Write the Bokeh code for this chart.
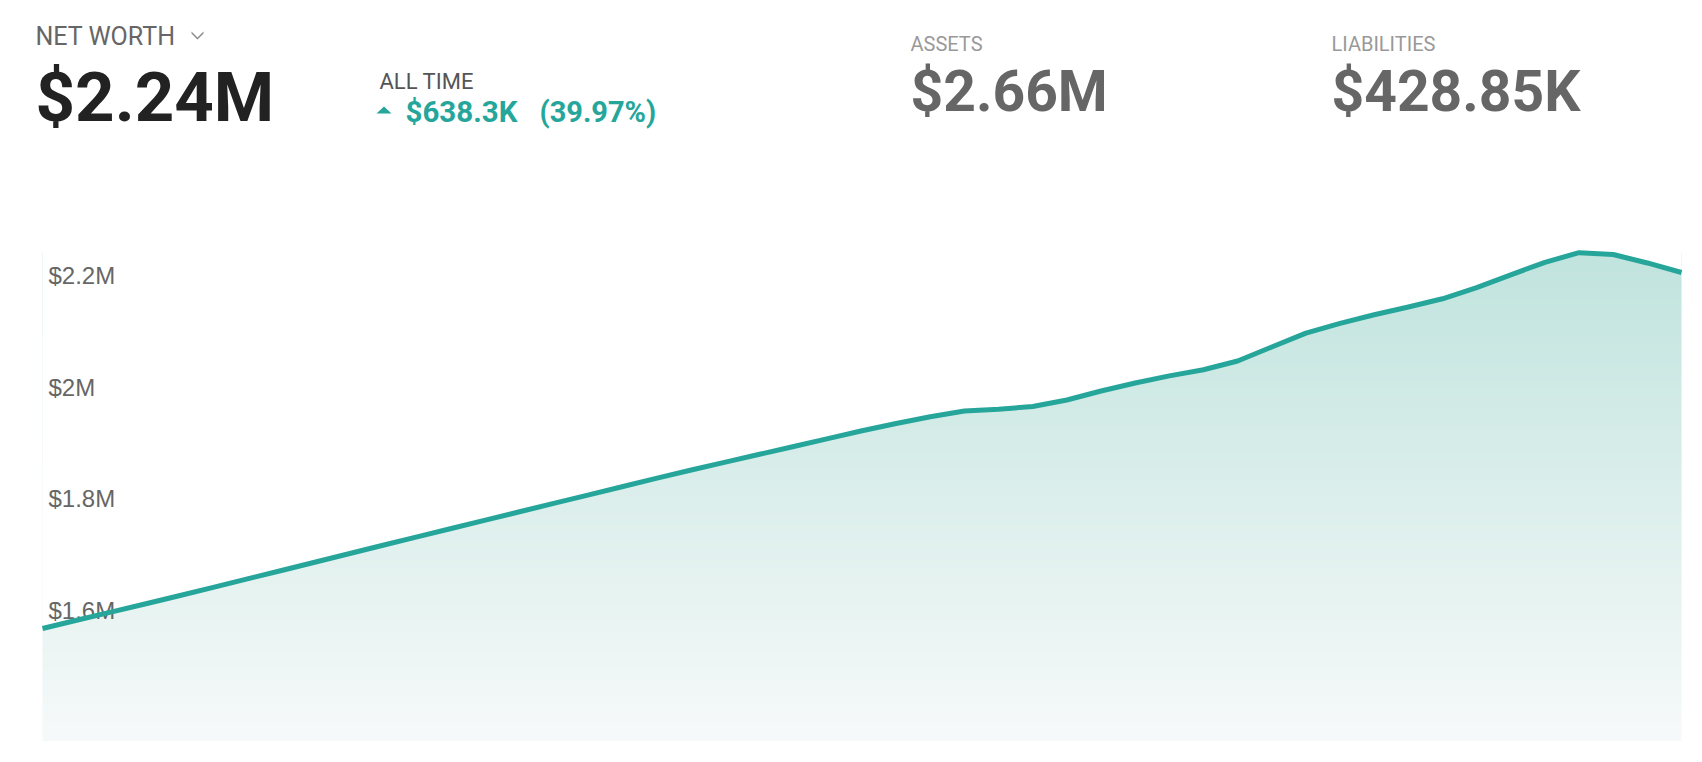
import numpy as np
from bokeh.plotting import figure
from bokeh.models import Range1d, Label, PolyAnnotation, ColumnDataSource
from bokeh.core.properties import value
from bokeh.embed import file_html
from bokeh.resources import INLINE

# ---------------- data ----------------
periods = list(range(49))
net_worth = [1.6018e6, 1.6165e6, 1.6310e6, 1.6457e6, 1.6604e6, 1.6754e6, 1.6906e6,
             1.7057e6, 1.7209e6, 1.7361e6, 1.7514e6, 1.7664e6, 1.7814e6, 1.7963e6,
             1.8114e6, 1.8262e6, 1.8411e6, 1.8561e6, 1.8710e6, 1.8857e6, 1.8997e6,
             1.9138e6, 1.9278e6, 1.9419e6, 1.9559e6, 1.9690e6, 1.9810e6, 1.9914e6,
             1.9944e6, 1.9994e6, 2.0111e6, 2.0272e6, 2.0415e6, 2.0542e6, 2.0652e6,
             2.0809e6, 2.1060e6, 2.1309e6, 2.1483e6, 2.1638e6, 2.1776e6, 2.1923e6,
             2.2124e6, 2.2353e6, 2.2577e6, 2.2749e6, 2.2717e6, 2.2565e6, 2.2394e6]
tick_values = [1.6e6, 1.8e6, 2.0e6, 2.2e6]
tick_labels = ["$1.6M", "$1.8M", "$2M", "$2.2M"]
baseline_value = 1.4e6

title_text = "NET WORTH"
headline_value = "$2.24M"
period_text = "ALL TIME"
change_amount = "$638.3K"
change_pct = "(39.97%)"
assets_label = "ASSETS"
assets_value = "$2.66M"
liabilities_label = "LIABILITIES"
liabilities_value = "$428.85K"

# ---------------- styles ----------------
TEAL = "#26a69a"
W, H = 1686, 746
OFF = 0  # canvas offset of the figure on the page

p = figure(width=W, height=H, output_backend="svg", toolbar_location=None,
           x_axis_type=None, y_axis_type=None, min_border=0,
           x_range=Range1d(-1.230, 48.146), y_range=Range1d(1.3904e6, 2.7266e6))
p.outline_line_color = None
p.background_fill_color = "white"
p.border_fill_color = "white"

src = ColumnDataSource(dict(x=periods, y=net_worth,
                            top=[p.y_range.end] * len(periods)))

# vertical gradient under the curve
top_val = max(net_worth)
n = 200
t = np.linspace(0.0, 1.0, n)  # 0 bottom -> 1 top
c_bot = np.array([247, 250, 250])
c_top = np.array([193, 228, 222])
rgb = (c_bot[None, :] * (1 - t[:, None]) + c_top[None, :] * t[:, None]).astype(np.uint32)
img = np.empty((n, 1), dtype=np.uint32)
view = img.view(dtype=np.uint8).reshape((n, 1, 4))
view[:, 0, 0] = rgb[:, 0]
view[:, 0, 1] = rgb[:, 1]
view[:, 0, 2] = rgb[:, 2]
view[:, 0, 3] = 255
p.image_rgba(image=[img], x=periods[0], y=baseline_value,
             dw=periods[-1] - periods[0], dh=top_val - baseline_value)

# white mask above the curve
p.varea(x="x", y1="y", y2="top", source=src, fill_color="white")

# y tick labels inside the plot
p.text(x=[periods[0]] * len(tick_values), y=tick_values, text=tick_labels,
       x_offset=6, y_offset=-19, text_baseline="middle", text_align="left",
       text_font=value("Liberation Sans"), text_font_size="24px", text_color="#666666")

# line
p.line(x="x", y="y", source=src, line_color=TEAL, line_width=5, line_join="round")

# ---------------- header ----------------
def hdr(text, xr, yr, size, color, bold=False, font="Roboto"):
    p.add_layout(Label(x=xr - OFF, y=yr - OFF, x_units="canvas", y_units="canvas",
                       text=text, text_font=font, text_font_size=f"{size}px",
                       text_color=color, text_font_style="bold" if bold else "normal",
                       text_baseline="middle", text_align="left"))

hdr(title_text, 35, 36, 25, "#666666")
hdr(headline_value, 35, 97, 69, "#222222", bold=True)
hdr(period_text, 379, 81, 22, "#555555")
hdr(change_amount, 405, 111, 29.5, TEAL, bold=True)
hdr(change_pct, 539, 111, 29, TEAL, bold=True)
hdr(assets_label, 910, 43, 20, "#999999")
hdr(assets_value, 910, 91, 57, "#666666", bold=True)
hdr(liabilities_label, 1331, 43, 20, "#999999")
hdr(liabilities_value, 1331, 91, 57, "#666666", bold=True)

# chevron next to the title
cx = [191, 197, 203, 203, 197, 191]
cy = [31, 37, 31, 33, 39, 33]
p.add_layout(PolyAnnotation(xs=[v - OFF for v in cx], ys=[v - OFF for v in cy],
                            xs_units="canvas", ys_units="canvas",
                            fill_color="#888888", fill_alpha=1, line_color=None))
# up triangle for the change
tx = [376, 383.5, 391]
ty = [113, 106, 113]
p.add_layout(PolyAnnotation(xs=[v - OFF for v in tx], ys=[v - OFF for v in ty],
                            xs_units="canvas", ys_units="canvas",
                            fill_color=TEAL, fill_alpha=1, line_color=None))

open("out.html", "w").write(file_html(p, INLINE))
